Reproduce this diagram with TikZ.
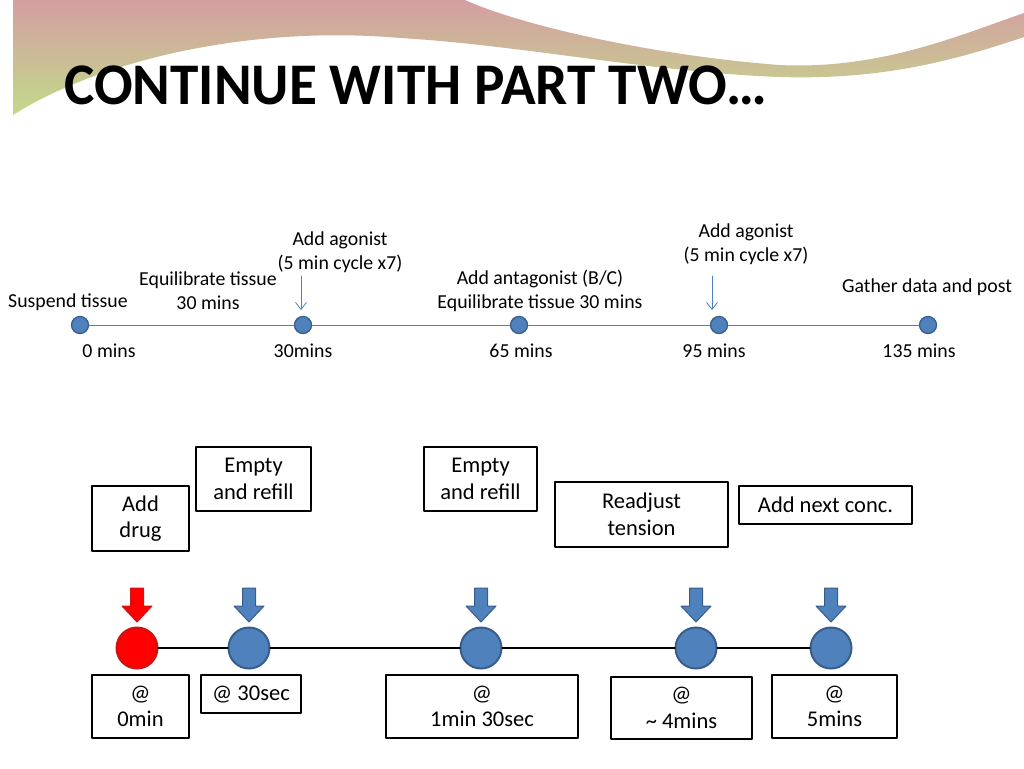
\documentclass[tikz,border=0pt]{standalone}
\usepackage{fontspec}
\setmainfont{Carlito}
\usetikzlibrary{arrows.meta}

\definecolor{dotblue}{RGB}{79,129,189}
\definecolor{dotedge}{RGB}{56,93,138}
\definecolor{dotred}{RGB}{255,0,0}
\definecolor{rededge}{RGB}{205,20,20}
\definecolor{wavepink}{RGB}{212,158,162}
\definecolor{wavegreen}{RGB}{194,218,138}

\tikzset{
	tdot/.style={circle, fill=dotblue, draw=dotedge, line width=1.3pt, minimum size=17pt, inner sep=0pt},
	bdot/.style={circle, fill=dotblue, draw=dotedge, line width=2pt, minimum size=41pt, inner sep=0pt},
	tlbl/.style={font=\fontsize{19.8}{24}\selectfont, align=center, inner sep=0pt},
	note/.style={draw, line width=2pt, fill=white, align=center, inner sep=0pt, font=\fontsize{22.5}{26.5}\selectfont},
	barrow/.style={fill=dotblue, draw=dotedge, line width=1pt},
}

\begin{document}
\begin{tikzpicture}[x=1pt, y=-1pt, >=stealth, line join=round, line cap=round]
	\useasboundingbox (0,0) rectangle (1024,768);
	% title band
	\shade[top color=wavepink, bottom color=wavegreen] (13,115) -- (13,0) -- (465,0)
		.. controls (520,25) and (650,55) .. (779,65)
		.. controls (880,70) and (960,35) .. (1024,13) -- (1024,37)
		.. controls (950,62) and (880,80) .. (779,77)
		.. controls (650,72) and (520,45) .. (400,38)
		.. controls (250,25) and (100,60) .. (13,115) -- cycle;
	\node[anchor=base west, inner sep=0pt, xscale=0.97, font=\fontsize{59}{60}\selectfont\bfseries] (title) at (64,104) {CONTINUE WITH PART TWO…};

	% overall timeline
	\foreach \n/\x in {t0/80,t30/303,t65/519,t95/719,t135/928}{
		\node[tdot] (\n) at (\x,325) {};
	}
	\draw[dotblue, line width=1pt] (t0) -- (t30) -- (t65) -- (t95) -- (t135);
	\foreach \n/\x/\txt in {m0/109/0 mins, m30/303/30mins, m65/521/65 mins, m95/714/95 mins, m135/919/135 mins}{
		\node[tlbl] (\n) at (\x,351) {\txt};
	}
	\node[tlbl] (susp) at (68,302) {Suspend tissue};
	\node[tlbl] (equi) at (208,291) {Equilibrate tissue\\30 mins};
	\node[tlbl] (ago1) at (340,252) {Add agonist\\(5 min cycle x7)};
	\node[tlbl] (anta) at (540,291) {Add antagonist (B/C)\\Equilibrate tissue 30 mins};
	\node[tlbl] (ago2) at (746,244) {Add agonist\\(5 min cycle x7)};
	\node[tlbl] (gath) at (927,287) {Gather data and post};
	\coordinate (p1) at (301,276);
	\coordinate (q1) at (301,310);
	\coordinate (p2) at (712,276);
	\coordinate (q2) at (712,310);
	\draw[dotblue, line width=0.8pt, -{Straight Barb[length=7pt, width=11pt]}] (p1) -- (q1);
	\draw[dotblue, line width=0.8pt, -{Straight Barb[length=7pt, width=11pt]}] (p2) -- (q2);

	% one concentration cycle
	\node[bdot, fill=dotred, draw=rededge] (b0) at (137,648) {};
	\foreach \n/\x in {b1/249,b2/481,b3/696,b4/831}{
		\node[bdot] (\n) at (\x,648) {};
	}
	\draw[line width=2.5pt] (b0) -- (b1) -- (b2) -- (b3) -- (b4);
	\foreach \x in {249,481,696,831}{
		\draw[barrow] (\x-6.5,588) -- (\x+6.5,588) -- (\x+6.5,606) -- (\x+15,606) -- (\x,622) -- (\x-15,606) -- (\x-6.5,606) -- cycle;
	}
	\draw[barrow, fill=dotred, draw=rededge] (130.5,588) -- (143.5,588) -- (143.5,606) -- (152,606) -- (137,622) -- (122,606) -- (130.5,606) -- cycle;

	\node[note, minimum width=97pt, minimum height=65pt] (drug) at (140.5,518.5) {Add\\drug};
	\node[note, minimum width=115pt, minimum height=64pt] (emp1) at (253.5,479) {Empty\\and refill};
	\node[note, minimum width=113pt, minimum height=64pt] (emp2) at (480.5,479) {Empty\\and refill};
	\node[note, minimum width=173pt, minimum height=65pt] (read) at (641.5,514.5) {Readjust\\tension};
	\node[note, minimum width=173pt, minimum height=38pt] (next) at (825.5,505) {Add next conc.};

	\node[note, minimum width=97pt, minimum height=63pt] (at0) at (140.5,706.5) {@\\0min};
	\node[note, minimum width=100pt, minimum height=38pt] (at1) at (251,694) {@ 30sec};
	\node[note, minimum width=192pt, minimum height=63pt] (at2) at (482,706.5) {@\\1min 30sec};
	\node[note, minimum width=141pt, minimum height=62pt] (at3) at (681.5,708) {@\\\textasciitilde\ 4mins};
	\node[note, minimum width=125pt, minimum height=63pt] (at4) at (834.5,706.5) {@\\5mins};
\end{tikzpicture}
\end{document}
